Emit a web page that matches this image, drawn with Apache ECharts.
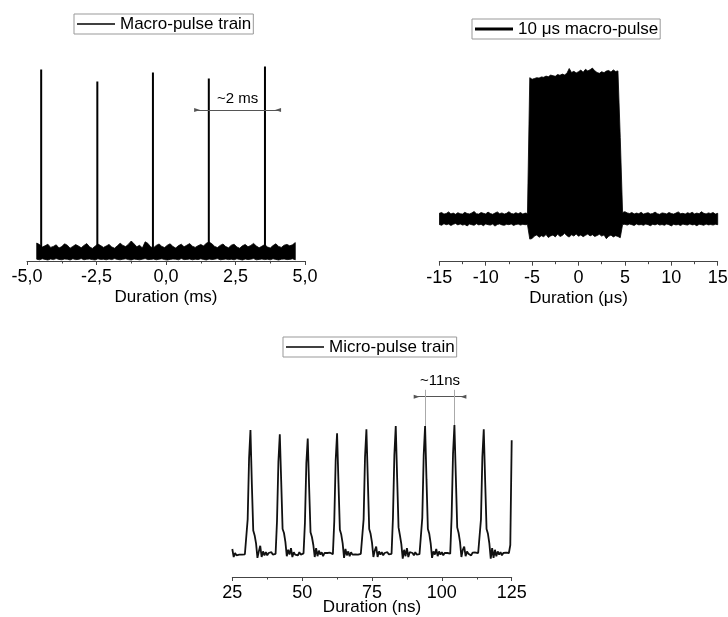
<!DOCTYPE html>
<html>
<head>
<meta charset="utf-8">
<script src="https://cdn.jsdelivr.net/npm/echarts@6/dist/echarts.min.js"></script>
<style>
  html, body { margin: 0; padding: 0; background: #fff; }
  #c { width: 728px; height: 617px; }
</style>
</head>
<body>
<div id="c"></div>
<script>
// ---- Macro-pulse train (time in ms, amplitude in a.u.) ----
// noise envelope, one sample every 0.1 ms starting at -4.65 ms
const trainStart = -4.65;
const trainStep = 0.1;
const trainHigh = [
  9.0, 8.2, 7.0, 7.6, 8.4, 6.8, 7.3, 8.1, 6.5, 7.2,
  8.6, 7.9, 6.4, 7.3, 8.2, 7.5, 6.6, 7.8, 8.7, 7.1,
  6.3, 7.4, 8.5, 7.7, 6.8, 7.5, 8.3, 7.0, 6.4, 7.6,
  8.9, 7.8, 7.2, 8.4, 10.0, 8.6, 7.1, 7.9, 6.5, 9.6,
  8.8, 7.0, 6.6, 7.8, 8.5, 7.3, 6.7, 7.9, 8.6, 7.2,
  6.5, 7.7, 8.4, 7.1, 7.9, 8.7, 7.4, 6.8, 7.6, 8.3,
  7.5, 8.9, 9.5, 8.6, 7.3, 6.7, 7.8, 8.5, 7.2, 6.6,
  7.9, 8.4, 7.0, 6.4, 7.6, 8.3, 7.1, 7.8, 8.8, 7.5,
  6.6, 7.4, 8.2, 7.0, 6.5, 7.7, 8.6, 7.3, 6.8, 7.9,
  8.3, 7.6, 8.1, 9.2
];
const trainLow = [
  0.9, 0.6, 1.1, 0.8, 0.5, 1.0, 0.7, 1.2, 0.8, 0.6,
  1.0, 0.9, 0.5, 1.1, 0.7, 0.8, 1.2, 0.6, 0.9, 1.0,
  0.7, 0.5, 1.1, 0.8, 0.9, 0.6, 1.0, 0.7, 1.2, 0.8,
  0.6, 0.9, 1.1, 0.7, 0.5, 1.0, 0.8, 0.6, 0.9, 1.2,
  0.7, 0.8, 1.0, 0.6, 0.9, 1.1, 0.7, 0.5, 0.8, 1.0,
  0.9, 0.6, 1.2, 0.7, 0.8, 1.0, 0.6, 0.9, 0.7, 1.1,
  0.8, 0.5, 1.0, 0.7, 0.9, 1.2, 0.6, 0.8, 1.0, 0.7,
  0.9, 0.6, 1.1, 0.8, 0.5, 1.0, 0.7, 0.9, 1.2, 0.6,
  0.8, 1.0, 0.7, 0.9, 0.6, 1.1, 0.8, 0.5, 0.9, 1.0,
  0.7, 0.8, 1.1, 0.6
];
// macro-pulses: arrival time (ms) and peak amplitude
const trainSpikeX = [-4.49, -2.47, -0.47, 1.54, 3.56];
const trainSpikePeak = [95.8, 89.7, 94.2, 91.3, 97.2];
// period marker "~2 ms"
const trainSpan = [1.12, 4.03];
const trainSpanLevel = 75.5;

// ---- Single 10 us macro-pulse (time in us) ----
// envelope, one sample every 0.25 us starting at -15 us
const pulseStart = -15;
const pulseStep = 0.25;
const pulseHigh = [
  24.2, 24.6, 23.8, 24.1, 24.9, 23.9, 24.3, 23.7, 24.5, 24.0,
  23.8, 24.7, 24.1, 23.9, 24.4, 25.1, 24.0, 23.8, 24.6, 24.2,
  23.9, 24.8, 24.1, 23.7, 24.3, 24.9, 24.0, 24.4, 23.8, 24.2,
  25.0, 24.1, 23.9, 24.5, 24.0, 24.6, 23.8, 24.3, 24.1,
  92.0, 91.2, 91.6, 92.0, 91.8, 92.4, 92.2, 92.8, 92.5, 93.3,
  93.0, 92.7, 93.6, 93.2, 93.8, 93.4, 94.2, 96.6, 94.6, 95.2,
  94.4, 95.0, 95.8, 94.7, 96.2, 95.4, 96.0, 96.8, 95.5, 94.6,
  94.2, 95.0, 94.5, 95.3, 95.6, 94.8, 95.9, 95.1, 95.4, 62.0,
  24.6,
  25.0, 24.4, 24.1, 24.6, 23.9, 24.3, 24.0, 24.7, 23.8, 24.2,
  24.5, 23.9, 24.1, 24.8, 24.0, 23.7, 24.4, 24.2, 23.9, 24.6,
  24.1, 23.8, 24.3, 24.9, 24.0, 24.2, 23.8, 24.5, 24.1, 24.7,
  23.9, 24.3, 24.0, 25.0, 24.2, 23.9, 24.4, 24.1, 24.6, 23.8,
  24.2
];
const pulseLow = [
  18.6, 18.2, 19.0, 18.5, 18.8, 18.1, 18.7, 19.1, 18.4, 18.9,
  18.3, 18.6, 17.9, 18.8, 18.5, 18.2, 19.0, 18.4, 18.7, 18.0,
  18.9, 18.5, 18.3, 18.8, 17.8, 18.6, 18.9, 18.4, 18.2, 18.7,
  18.5, 18.9, 18.1, 18.6, 18.8, 18.3, 18.7, 18.5, 18.6,
  11.3, 11.6, 12.8, 13.4, 12.2, 13.0, 12.5, 13.6, 12.1, 12.9,
  13.3, 12.4, 13.8, 12.6, 13.1, 14.2, 13.0, 12.3, 13.5, 12.8,
  13.9, 12.7, 13.4, 12.5, 13.2, 13.8, 12.9, 13.5, 12.6, 13.1,
  13.7, 12.8, 13.4, 11.5, 12.7, 13.3, 12.4, 13.0, 12.6, 12.0,
  18.6,
  18.7, 18.3, 18.8, 18.5, 18.1, 18.9, 18.4, 18.6, 18.2, 18.8,
  18.5, 18.0, 18.7, 18.4, 18.9, 18.3, 18.6, 18.2, 18.8, 18.5,
  17.9, 18.7, 18.4, 18.6, 18.1, 18.8, 18.5, 18.3, 18.9, 18.4,
  18.6, 18.0, 18.7, 18.5, 18.2, 18.8, 18.4, 18.6, 18.3, 18.7,
  18.5
];

// ---- Micro-pulse train (time in ns), one sample every 0.5 ns from 25 ns ----
const microStart = 25;
const microStep = 0.5;
const microVals = [
  17.5, 12.5, 15.0, 13.5, 14.5, 14.0, 15.0, 14.0, 14.5, 14.2,
  14.5, 36, 74, 91.9, 58, 29, 26, 21, 12, 16, 19.5, 12.5, 16, 13.5, 15.5, 13.5, 15, 14, 15.5, 14, 15,
  14.5, 35, 72, 89.2, 60, 30, 27.5, 22, 13, 17, 14, 18, 12.5, 15.5, 14, 15, 13.5, 15.5, 14, 14.8,
  14.8, 34, 71, 86.5, 56, 28, 25, 20, 12.5, 18, 13, 16.5, 14, 15.5, 13, 15, 14.5, 15, 13.8, 15.2, 14.5,
  14.3, 35, 73, 89.8, 59, 29.5, 26.5, 21, 12, 17.5, 13.5, 16, 13, 15.5, 14, 15, 14.2, 15.3, 14, 15, 14.5,
  14.6, 36, 75, 92.3, 61, 30, 27, 21.5, 12.5, 16.5, 19, 12.5, 16, 14, 15.5, 13.5, 15, 14, 15.5, 14.2, 15,
  14.5, 37, 76, 94.4, 62, 31, 26, 20.5, 11.5, 17, 13, 18, 12.5, 15.5, 14.5, 15, 13.5, 15.5, 14, 15, 14.3,
  14.4, 37, 76, 94.4, 61, 30, 27, 21, 12, 16, 14, 17.5, 13, 16, 14, 15.5, 13.5, 15, 14.5, 15, 14.2,
  14.6, 38, 77, 95.0, 63, 31, 27.5, 22, 12.5, 17, 19, 13, 16, 14.5, 15.5, 13.5, 15.2, 14, 15.3, 14.4, 15,
  14.5, 36, 75, 92.3, 60, 30, 27, 21, 11.5, 18, 12, 17, 13, 16, 14, 15.5, 13.5, 15, 14, 15.2, 14.5, 15, 20,
  85.4
];
// period marker "~11ns": span, level, and the two peaks it refers to
const microSpan = [91.0, 107.7];
const microSpanLevel = 112.7;
const microGuideIdx = [138, 159];
const microGuideTop = 117;

// axis ranges [min, max, interval]
const msAxis = [-5, 5, 2.5];
const usAxis = [-15, 15, 5];
const nsAxis = [25, 125, 25];

const FONT = '"Liberation Sans", Arial, sans-serif';
const INK = '#000';
const AXIS_INK = '#444';

const trainX = trainHigh.map((_, i) => +(trainStart + i * trainStep).toFixed(3));
const pulseX = pulseHigh.map((_, i) => +(pulseStart + i * pulseStep).toFixed(3));
const microX = microVals.map((_, i) => microStart + i * microStep);

const spikeData = [];
trainSpikeX.forEach((x, i) => {
  spikeData.push([x, 3], [x, trainSpikePeak[i]], [x, 3]);
});

// arrow head pointing back along the line, so dimension arrows face inward
const inwardArrow = 'path://M0,0L10,0L5,10Z';

// filled envelope between low and high, drawn as one polygon
function bandSeries(name, axisIdx, xs, lows, highs) {
  return {
    name: name, type: 'custom', xAxisIndex: axisIdx, yAxisIndex: axisIdx,
    silent: true, clip: true,
    itemStyle: { color: INK },
    encode: { x: 0, y: [1, 2] },
    data: xs.map((x, i) => [x, lows[i], highs[i]]),
    renderItem: function (params, api) {
      if (params.dataIndexInside !== 0) return null;
      const len = params.dataInsideLength || xs.length;
      const top = [], bottom = [];
      for (let j = 0; j < len; j++) {
        const x = api.value(0, j);
        top.push(api.coord([x, api.value(2, j)]));
        bottom.push(api.coord([x, api.value(1, j)]));
      }
      return {
        type: 'polygon',
        shape: { points: top.concat(bottom.reverse()) },
        style: { fill: INK, stroke: INK, lineWidth: 0.8 }
      };
    }
  };
}

function xAxisFor(grid, range, name, gap, labelMargin, fmt) {
  return {
    type: 'value', gridIndex: grid,
    min: range[0], max: range[1], interval: range[2],
    name: name, nameLocation: 'middle', nameGap: gap, nameMoveOverlap: false,
    nameTextStyle: { fontFamily: FONT, fontSize: 17, color: INK },
    axisLine: { show: true, onZero: false, lineStyle: { color: AXIS_INK, width: 1 } },
    axisTick: { show: true, inside: false, length: 4, lineStyle: { color: AXIS_INK } },
    minorTick: { show: true, splitNumber: 2, length: 2.5, lineStyle: { color: AXIS_INK } },
    splitLine: { show: false },
    axisLabel: {
      fontFamily: FONT, fontSize: 18, color: INK, margin: labelMargin,
      showMinLabel: true, showMaxLabel: true,
      formatter: fmt || (v => String(v))
    }
  };
}
function hiddenY(grid, max) {
  return { type: 'value', gridIndex: grid, min: 0, max: max, show: false, splitLine: { show: false } };
}
function legendAt(name, left, top, lineH) {
  return {
    data: [{ name: name }],
    left: left, top: top,
    orient: 'horizontal',
    icon: 'rect', itemWidth: 38, itemHeight: lineH,
    selectedMode: false,
    borderColor: '#999', borderWidth: 1,
    padding: [1, 2, 1, 3],
    textStyle: { fontFamily: FONT, fontSize: 17, lineHeight: 18, color: INK }
  };
}

const option = {
  animation: false,
  backgroundColor: '#fff',
  grid: [
    { left: 27, top: 61, width: 278, height: 200, outerBoundsMode: 'none', containLabel: false },
    { left: 439.3, top: 61.7, width: 278.4, height: 200, outerBoundsMode: 'none', containLabel: false },
    { left: 232.3, top: 369, width: 279.4, height: 208, outerBoundsMode: 'none', containLabel: false }
  ],
  xAxis: [
    xAxisFor(0, msAxis, 'Duration (ms)', 28, 7, v => v.toFixed(1).replace('.', ',')),
    xAxisFor(1, usAxis, 'Duration (\u03bcs)', 28, 7),
    xAxisFor(2, nsAxis, 'Duration (ns)', 22, 7)
  ],
  yAxis: [hiddenY(0, 100), hiddenY(1, 100), hiddenY(2, 130)],
  legend: [
    legendAt('Macro-pulse train', 74, 14, 1.6),
    legendAt('10 \u03bcs macro-pulse', 472, 19, 3),
    legendAt('Micro-pulse train', 283, 337, 1.6)
  ],
  series: [
    bandSeries('Macro-pulse train', 0, trainX, trainLow, trainHigh),
    {
      name: 'Macro-pulse train', type: 'line', xAxisIndex: 0, yAxisIndex: 0,
      symbol: 'none', silent: true,
      itemStyle: { color: INK },
      lineStyle: { color: INK, width: 2 },
      data: spikeData,
      markLine: {
        silent: true, animation: false,
        symbol: [inwardArrow, inwardArrow], symbolSize: [4, 6],
        lineStyle: { color: '#555', width: 1, type: 'solid' },
        label: { show: true, position: 'middle', distance: 4, formatter: '~2 ms',
                 fontFamily: FONT, fontSize: 15, color: INK },
        data: [[{ coord: [trainSpan[0], trainSpanLevel] }, { coord: [trainSpan[1], trainSpanLevel] }]]
      }
    },
    bandSeries('10 \u03bcs macro-pulse', 1, pulseX, pulseLow, pulseHigh),
    {
      name: 'Micro-pulse train', type: 'line', xAxisIndex: 2, yAxisIndex: 2,
      symbol: 'none', silent: true,
      itemStyle: { color: INK },
      lineStyle: { color: '#111', width: 1.8 },
      data: microX.map((x, i) => [x, microVals[i]]),
      markLine: {
        silent: true, animation: false,
        symbol: 'none',
        label: { show: false },
        data: [
          [
            { coord: [microSpan[0], microSpanLevel], symbol: inwardArrow, symbolSize: [4, 6],
              lineStyle: { color: '#555', width: 1, type: 'solid' },
              label: { show: true, position: 'middle', distance: 8, formatter: '~11ns',
                       fontFamily: FONT, fontSize: 15, color: INK } },
            { coord: [microSpan[1], microSpanLevel], symbol: inwardArrow, symbolSize: [4, 6] }
          ],
          [
            { coord: [microX[microGuideIdx[0]], microGuideTop],
              lineStyle: { color: '#aaa', width: 1, type: 'solid' } },
            { coord: [microX[microGuideIdx[0]], microVals[microGuideIdx[0]]] }
          ],
          [
            { coord: [microX[microGuideIdx[1]], microGuideTop],
              lineStyle: { color: '#aaa', width: 1, type: 'solid' } },
            { coord: [microX[microGuideIdx[1]], microVals[microGuideIdx[1]]] }
          ]
        ]
      }
    }
  ]
};

const chart = echarts.init(document.getElementById('c'), null, { renderer: 'canvas' });
chart.setOption(option);
</script>
</body>
</html>
